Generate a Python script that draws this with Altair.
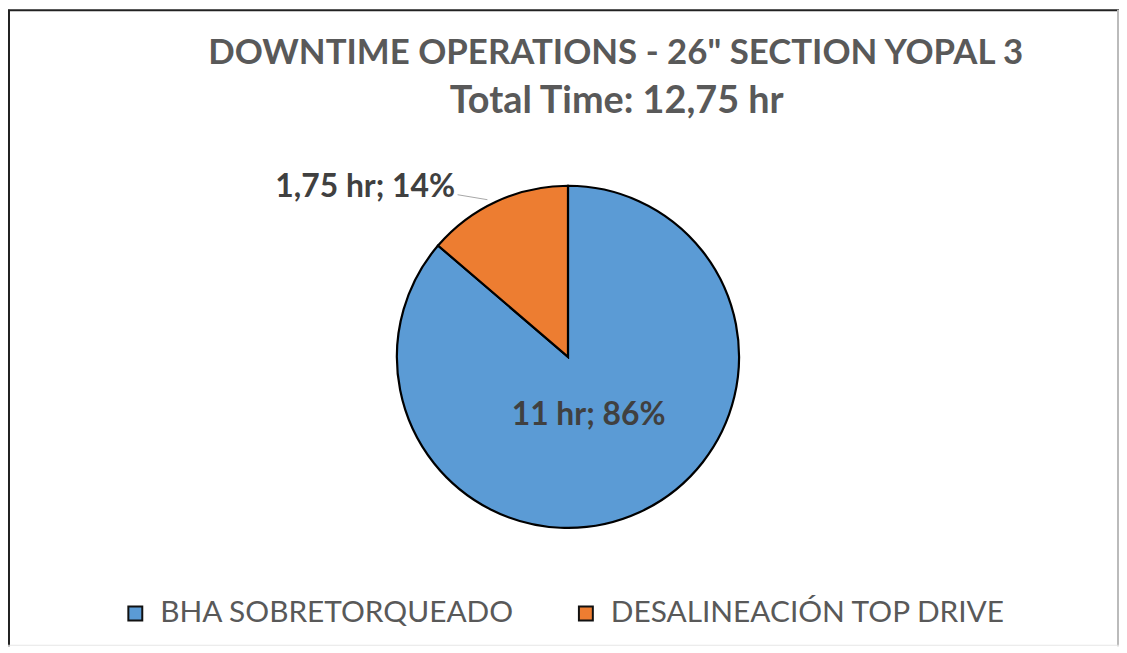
import altair as alt
import pandas as pd

categories = ["BHA SOBRETORQUEADO", "DESALINEACIÓN TOP DRIVE"]
hours = [11.0, 1.75]
percents = [86, 14]
colors = ["#5B9BD5", "#ED7D31"]

title_text = "DOWNTIME OPERATIONS - 26\" SECTION YOPAL 3"
subtitle_text = "Total Time: 12,75 hr"

def fmt_hours(h):
    s = f"{h:g}".replace(".", ",")
    return f"{s} hr"

labels = [f"{fmt_hours(h)}; {p}%" for h, p in zip(hours, percents)]

df = pd.DataFrame({
    "idx": list(range(len(categories))),
    "category": categories,
    "hours": hours,
    "label": labels,
})

W, H = 1117, 640
CX, CY, R = 563, 349, 172
FONT = "Lato"

base = alt.Chart(df)

theta = alt.Theta("hours:Q", stack=True)
order = alt.Order("idx:Q", sort="ascending")

pie = base.mark_arc(radius=R, stroke="#000000", strokeWidth=2.2).encode(
    theta=theta,
    order=order,
    x=alt.value(CX),
    y=alt.value(CY),
    color=alt.Color(
        "category:N",
        scale=alt.Scale(domain=categories, range=colors),
        sort=categories,
        legend=alt.Legend(
            title=None,
            orient="none",
            direction="horizontal",
            legendX=113,
            legendY=592,
            padding=0,
            symbolType="square",
            symbolSize=196,
            symbolStrokeColor="#111111",
            symbolStrokeWidth=2,
            symbolOpacity=1,
            labelFont=FONT,
            labelFontSize=30,
            labelColor="#595959",
            labelOffset=10,
            columnPadding=57,
            labelLimit=600,
        ),
    ),
)

inner = base.transform_calculate(
    txt="datum.idx == 0 ? datum.label : ''"
).mark_text(
    radius=64, font=FONT, fontSize=32, fontWeight="bold", color="#404040", dx=-6
).encode(
    theta=theta, order=order, x=alt.value(CX), y=alt.value(CY), text="txt:N"
)

outer = base.transform_calculate(
    txt="datum.idx == 1 ? datum.label : ''"
).mark_text(
    radius=188, font=FONT, fontSize=32, fontWeight="bold", color="#404040",
    align="right", dx=-35, dy=0
).encode(
    theta=theta, order=order, x=alt.value(CX), y=alt.value(CY), text="txt:N"
)

deco = alt.Chart(pd.DataFrame({"k": [0]}))

leader = deco.mark_rule(color="#A6A6A6", strokeWidth=1).encode(
    x=alt.value(452), x2=alt.value(482), y=alt.value(186), y2=alt.value(191)
)

title = deco.mark_text(
    font=FONT, fontSize=35, fontWeight="bold", color="#595959", baseline="alphabetic"
).encode(x=alt.value(611), y=alt.value(55), text=alt.value(title_text))

subtitle = deco.mark_text(
    font=FONT, fontSize=38, fontWeight="bold", color="#595959", baseline="alphabetic"
).encode(x=alt.value(612), y=alt.value(104), text=alt.value(subtitle_text))

frame_top = deco.mark_rule(color="#222222", strokeWidth=2).encode(
    x=alt.value(0), x2=alt.value(W), y=alt.value(0.5)
)
frame_left = deco.mark_rule(color="#222222", strokeWidth=2).encode(
    x=alt.value(1), y=alt.value(0), y2=alt.value(H)
)
frame_right = deco.mark_rule(color="#BBBBBB", strokeWidth=2).encode(
    x=alt.value(W - 1), y=alt.value(0), y2=alt.value(H)
)
frame_bottom = deco.mark_rule(color="#E6E6E6", strokeWidth=1).encode(
    x=alt.value(0), x2=alt.value(W), y=alt.value(H - 1)
)

chart = alt.layer(
    frame_top, frame_left, frame_right, frame_bottom,
    pie, inner, outer, leader, title, subtitle
).properties(
    width=W, height=H, padding=0, autosize=alt.AutoSizeParams(type="none"),
    background="#FFFFFF",
).configure_view(stroke=None)

chart.save("out.html", embed_options={"renderer": "svg", "actions": False})
